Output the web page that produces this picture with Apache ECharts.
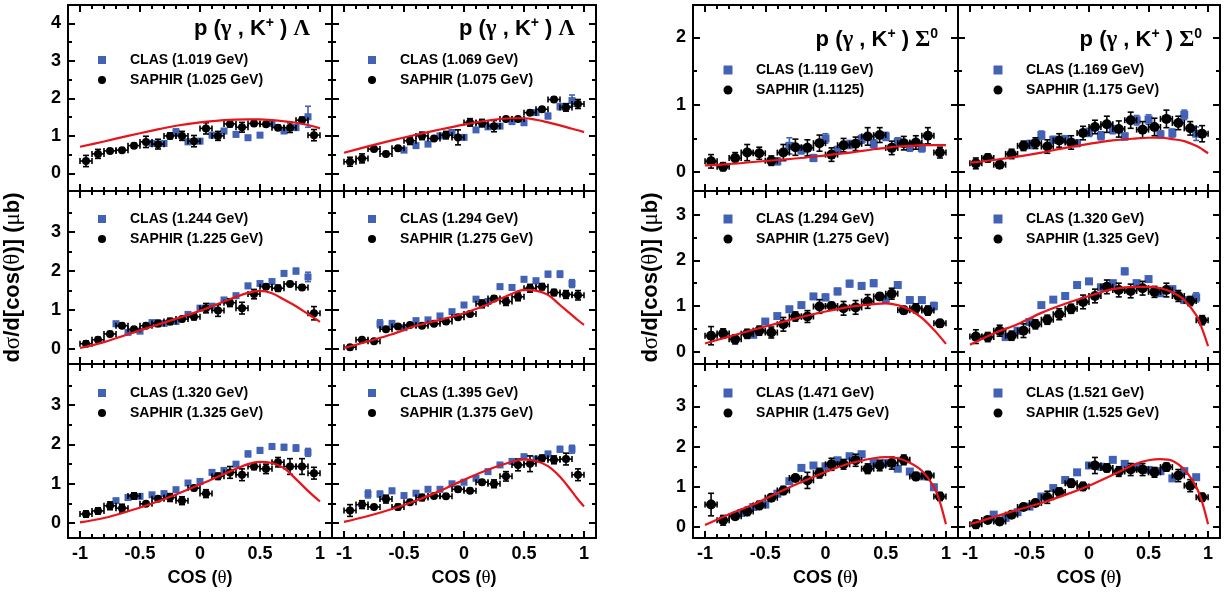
<!DOCTYPE html>
<html>
<head>
<meta charset="utf-8">
<script src="https://cdn.jsdelivr.net/npm/echarts@6/dist/echarts.min.js"></script>
<style>
  html, body { margin: 0; padding: 0; background: #fff; }
  #chart { width: 1229px; height: 593px; }
</style>
</head>
<body>
<div id="chart"></div>
<script>
// ---- kinematic bins -------------------------------------------------------
const saphirCos = [-0.95, -0.85, -0.75, -0.65, -0.55, -0.45, -0.35, -0.25, -0.15, -0.05,
                   0.05, 0.15, 0.25, 0.35, 0.45, 0.55, 0.65, 0.75, 0.85, 0.95];
const saphirBinHalf = 0.05;
const clasCos = [-0.8, -0.7, -0.6, -0.5, -0.4, -0.3, -0.2, -0.1, 0, 0.1, 0.2, 0.3, 0.4, 0.5, 0.6, 0.7, 0.8, 0.9];
const modelCos = [-1, -0.8, -0.6, -0.4, -0.2, 0, 0.2, 0.4, 0.5, 0.6, 0.7, 0.8, 0.9, 0.95, 1];

// ---- tick values ----------------------------------------------------------
const xMajorTicks = [-1, -0.5, 0, 0.5, 1];
const xMinorTicks = [-0.9, -0.8, -0.7, -0.6, -0.4, -0.3, -0.2, -0.1, 0.1, 0.2, 0.3, 0.4, 0.6, 0.7, 0.8, 0.9];
const yMajorLambdaTop = [0, 1, 2, 3, 4];
const yMajorLambda = [0, 1, 2, 3];
const yMinorLambda = [0.5, 1.5, 2.5, 3.5];
const yMajorSigmaTop = [0, 1, 2];
const yMinorSigmaTop = [0.5, 1.5];
const yMajorSigmaMid = [0, 1, 2, 3];
const yMinorSigmaMid = [0.5, 1.5, 2.5];
const yMajorSigmaBot = [0, 1, 2, 3];
const yMinorSigmaBot = [0.5, 1.5, 2.5, 3.5];

// ---- labels ---------------------------------------------------------------
const clasLabels = ['CLAS (1.019 GeV)', 'CLAS (1.069 GeV)', 'CLAS (1.244 GeV)', 'CLAS (1.294 GeV)',
                    'CLAS (1.320 GeV)', 'CLAS (1.395 GeV)', 'CLAS (1.119 GeV)', 'CLAS (1.169 GeV)',
                    'CLAS (1.294 GeV)', 'CLAS (1.320 GeV)', 'CLAS (1.471 GeV)', 'CLAS (1.521 GeV)'];
const saphirLabels = ['SAPHIR (1.025 GeV)', 'SAPHIR (1.075 GeV)', 'SAPHIR (1.225 GeV)', 'SAPHIR (1.275 GeV)',
                      'SAPHIR (1.325 GeV)', 'SAPHIR (1.375 GeV)', 'SAPHIR (1.1125)', 'SAPHIR (1.175 GeV)',
                      'SAPHIR (1.275 GeV)', 'SAPHIR (1.325 GeV)', 'SAPHIR (1.475 GeV)', 'SAPHIR (1.525 GeV)'];
const reactionLambda = '{b|p (}{g|γ}{b| , K}{s|+}{b| ) }{g|Λ}';
const reactionSigma = '{b|p (}{g|γ}{b| , K}{s|+}{b| ) }{g|Σ}{s|0}';
const xTitle = '{b|COS (}{g|θ}{b|)}';
const yTitle = '{b|d}{g|σ}{b|/d[cos(}{g|θ}{b|)] (}{g|μ}{b|b)}';

// ---- p(γ,K+)Λ : differential cross sections (μb) ---------------------------
const saphir1 = [0.33, 0.52, 0.60, 0.62, 0.74, 0.84, 0.78, 1.00, 1.00, 0.86, 1.20, 1.00, 1.32, 1.23, 1.33, 1.31, 1.22, 1.22, 1.42, 1.02];
const saphirErr1 = [0.15, 0.12, 0.05, 0.05, 0.06, 0.15, 0.13, 0.08, 0.12, 0.15, 0.15, 0.12, 0.08, 0.13, 0.06, 0.05, 0.06, 0.13, 0.08, 0.15];
const clas1 = [null, null, null, null, 0.80, 0.80, 1.11, 0.84, 0.86, 1.02, 1.13, 1.04, 0.95, 1.02, 1.33, 1.13, 1.22, 1.51];
const clasErr1 = [null, null, null, null, 0.06, 0.06, 0.07, 0.06, 0.06, 0.06, 0.06, 0.06, 0.06, 0.06, 0.07, 0.06, 0.07, 0.28];
const model1 = [0.71, 0.85, 1.00, 1.14, 1.27, 1.36, 1.42, 1.44, 1.44, 1.42, 1.39, 1.35, 1.29, 1.25, 1.20];

const saphir2 = [0.31, 0.40, 0.65, 0.52, 0.67, 0.87, 1.00, 0.93, 1.02, 0.96, 1.36, 1.34, 1.26, 1.45, 1.45, 1.62, 1.71, 1.97, 1.76, 1.85];
const saphirErr2 = [0.12, 0.12, 0.06, 0.06, 0.06, 0.10, 0.10, 0.05, 0.10, 0.20, 0.10, 0.10, 0.15, 0.06, 0.06, 0.06, 0.06, 0.06, 0.10, 0.12];
const clas2 = [null, null, null, 0.62, 0.74, 0.78, 1.00, 1.09, 0.96, 1.16, 1.24, 1.26, 1.38, 1.35, 1.62, 1.53, 1.78, 1.94];
const clasErr2 = [null, null, null, 0.05, 0.05, 0.05, 0.05, 0.05, 0.05, 0.05, 0.05, 0.05, 0.05, 0.05, 0.06, 0.07, 0.08, 0.15];
const model2 = [0.55, 0.72, 0.88, 1.03, 1.17, 1.30, 1.41, 1.47, 1.47, 1.43, 1.36, 1.28, 1.19, 1.15, 1.10];

const saphir3 = [0.14, 0.24, 0.39, 0.60, 0.51, 0.60, 0.66, 0.71, 0.77, 0.83, 1.05, 0.99, 1.19, 1.05, 1.41, 1.60, 1.56, 1.67, 1.58, 0.92];
const saphirErr3 = [0.07, 0.06, 0.06, 0.06, 0.06, 0.06, 0.08, 0.08, 0.06, 0.08, 0.12, 0.15, 0.10, 0.15, 0.12, 0.06, 0.08, 0.06, 0.06, 0.17];
const clas3 = [null, 0.65, 0.43, 0.46, 0.68, 0.66, 0.71, 0.89, 1.05, 1.10, 1.26, 1.37, 1.62, 1.68, 1.73, 1.94, 2.00, 1.85];
const clasErr3 = [null, 0.06, 0.05, 0.05, 0.05, 0.05, 0.05, 0.05, 0.05, 0.05, 0.05, 0.05, 0.06, 0.06, 0.06, 0.06, 0.07, 0.12];
const model3 = [0.03, 0.18, 0.38, 0.58, 0.78, 0.98, 1.22, 1.44, 1.49, 1.43, 1.27, 1.10, 0.90, 0.80, 0.70];

const saphir4 = [0.05, 0.24, 0.20, 0.51, 0.58, 0.62, 0.60, 0.65, 0.71, 0.82, 0.90, 1.16, 1.30, 1.22, 1.34, 1.56, 1.60, 1.45, 1.40, 1.38];
const saphirErr4 = [0.06, 0.05, 0.05, 0.05, 0.05, 0.05, 0.05, 0.05, 0.06, 0.06, 0.06, 0.10, 0.06, 0.10, 0.10, 0.10, 0.08, 0.08, 0.10, 0.12];
const clas4 = [null, 0.65, 0.65, 0.55, 0.73, 0.75, 0.85, 0.96, 1.13, 1.28, 1.22, 1.60, 1.58, 1.79, 1.75, 1.92, 1.92, 1.68];
const clasErr4 = [null, 0.10, 0.08, 0.05, 0.05, 0.05, 0.05, 0.05, 0.05, 0.05, 0.05, 0.06, 0.06, 0.06, 0.06, 0.07, 0.08, 0.10];
const model4 = [0.03, 0.20, 0.38, 0.60, 0.75, 0.92, 1.15, 1.42, 1.52, 1.50, 1.39, 1.13, 0.87, 0.74, 0.62];

const saphir5 = [0.23, 0.31, 0.44, 0.38, 0.69, 0.49, 0.62, 0.65, 0.57, 0.89, 0.75, 1.19, 1.29, 1.23, 1.44, 1.38, 1.55, 1.44, 1.44, 1.27];
const saphirErr5 = [0.08, 0.08, 0.10, 0.10, 0.08, 0.05, 0.05, 0.10, 0.10, 0.06, 0.10, 0.08, 0.15, 0.15, 0.08, 0.12, 0.12, 0.20, 0.20, 0.15];
const clas5 = [null, 0.57, 0.65, 0.68, 0.72, 0.75, 0.85, 1.02, 1.06, 1.29, 1.34, 1.50, 1.76, 1.85, 1.95, 1.93, 1.91, 1.80];
const clasErr5 = [null, 0.05, 0.05, 0.05, 0.05, 0.05, 0.05, 0.05, 0.05, 0.05, 0.05, 0.05, 0.07, 0.07, 0.07, 0.07, 0.08, 0.10];
const model5 = [0.02, 0.13, 0.30, 0.50, 0.73, 0.98, 1.25, 1.50, 1.56, 1.53, 1.40, 1.12, 0.82, 0.68, 0.55];

const saphir6 = [0.32, 0.47, 0.41, 0.61, 0.41, 0.53, 0.65, 0.69, 0.68, 0.86, 0.82, 1.04, 1.00, 1.19, 1.48, 1.51, 1.65, 1.61, 1.63, 1.23];
const saphirErr6 = [0.15, 0.10, 0.05, 0.10, 0.07, 0.05, 0.08, 0.05, 0.05, 0.06, 0.06, 0.06, 0.10, 0.12, 0.15, 0.20, 0.08, 0.10, 0.15, 0.15];
const clas6 = [0.74, 0.74, 0.82, 0.70, 0.76, 0.86, 0.86, 1.00, 1.04, 1.14, 1.31, 1.48, 1.57, 1.69, 1.63, 1.76, 1.88, 1.88];
const clasErr6 = [0.10, 0.07, 0.06, 0.05, 0.05, 0.05, 0.05, 0.05, 0.05, 0.05, 0.05, 0.05, 0.05, 0.05, 0.05, 0.06, 0.07, 0.10];
const model6 = [0.03, 0.18, 0.36, 0.57, 0.82, 1.10, 1.36, 1.56, 1.62, 1.58, 1.45, 1.18, 0.80, 0.60, 0.42];

// ---- p(γ,K+)Σ0 : differential cross sections (μb) --------------------------
const saphir7 = [0.16, 0.08, 0.21, 0.29, 0.28, 0.17, 0.29, 0.37, 0.36, 0.43, 0.26, 0.40, 0.42, 0.53, 0.55, 0.36, 0.43, 0.44, 0.54, 0.29];
const saphirErr7 = [0.10, 0.06, 0.08, 0.12, 0.09, 0.07, 0.12, 0.12, 0.12, 0.12, 0.10, 0.10, 0.10, 0.13, 0.11, 0.10, 0.10, 0.10, 0.12, 0.08];
const clas7 = [null, null, null, null, 0.16, 0.39, 0.33, 0.21, 0.50, 0.33, 0.41, 0.49, 0.42, 0.53, 0.45, 0.37, 0.36, null];
const clasErr7 = [null, null, null, null, 0.05, 0.12, 0.06, 0.05, 0.07, 0.05, 0.06, 0.06, 0.06, 0.06, 0.06, 0.06, 0.06, null];
const model7 = [0.10, 0.12, 0.15, 0.18, 0.21, 0.25, 0.29, 0.34, 0.36, 0.38, 0.39, 0.40, 0.40, 0.40, 0.40];

const saphir8 = [0.13, 0.21, 0.11, 0.27, 0.39, 0.43, 0.38, 0.47, 0.44, 0.58, 0.67, 0.71, 0.64, 0.77, 0.63, 0.67, 0.79, 0.73, 0.65, 0.57];
const saphirErr8 = [0.08, 0.06, 0.05, 0.07, 0.07, 0.08, 0.10, 0.10, 0.10, 0.10, 0.10, 0.12, 0.12, 0.12, 0.12, 0.13, 0.13, 0.10, 0.10, 0.12];
const clas8 = [null, null, null, 0.41, 0.55, 0.48, 0.49, 0.43, 0.59, 0.54, 0.63, 0.53, 0.77, 0.78, 0.56, 0.58, 0.85, 0.57];
const clasErr8 = [null, null, null, 0.06, 0.06, 0.05, 0.05, 0.05, 0.06, 0.06, 0.06, 0.05, 0.07, 0.07, 0.05, 0.06, 0.07, 0.10];
const model8 = [0.14, 0.18, 0.23, 0.29, 0.36, 0.42, 0.47, 0.50, 0.51, 0.51, 0.49, 0.46, 0.39, 0.34, 0.28];

const saphir9 = [0.35, 0.40, 0.27, 0.39, 0.46, 0.42, 0.60, 0.77, 0.77, 0.99, 1.00, 0.95, 0.97, 1.10, 1.21, 1.27, 0.91, 0.95, 0.90, 0.62];
const saphirErr9 = [0.20, 0.10, 0.10, 0.10, 0.10, 0.12, 0.15, 0.10, 0.13, 0.15, 0.08, 0.15, 0.15, 0.15, 0.08, 0.12, 0.08, 0.10, 0.10, 0.08];
const clas9 = [null, null, 0.37, 0.66, 0.78, 0.93, 1.02, 1.21, 1.19, 1.32, 1.49, 1.44, 1.50, 1.15, 1.46, 1.13, 1.13, 1.00];
const clasErr9 = [null, null, 0.05, 0.05, 0.05, 0.05, 0.06, 0.06, 0.07, 0.07, 0.07, 0.07, 0.07, 0.07, 0.07, 0.07, 0.06, 0.08];
const model9 = [0.18, 0.33, 0.48, 0.62, 0.76, 0.88, 0.98, 1.04, 1.06, 1.02, 0.92, 0.74, 0.48, 0.33, 0.17];

const saphir10 = [0.33, 0.32, 0.46, 0.35, 0.46, 0.60, 0.70, 0.82, 0.94, 1.09, 1.22, 1.42, 1.35, 1.33, 1.39, 1.31, 1.35, 1.22, 1.11, 0.69];
const saphirErr10 = [0.15, 0.10, 0.12, 0.10, 0.15, 0.10, 0.10, 0.12, 0.10, 0.15, 0.15, 0.15, 0.15, 0.15, 0.15, 0.12, 0.15, 0.12, 0.10, 0.10];
const clas10 = [null, 0.32, 0.46, 0.65, 1.02, 1.14, 1.22, 1.46, 1.54, 1.41, 1.50, 1.76, 1.50, 1.59, 1.28, 1.37, 1.13, 1.19];
const clasErr10 = [null, 0.06, 0.06, 0.05, 0.05, 0.05, 0.05, 0.06, 0.06, 0.06, 0.06, 0.07, 0.06, 0.06, 0.06, 0.06, 0.06, 0.10];
const model10 = [0.15, 0.40, 0.60, 0.85, 1.05, 1.22, 1.37, 1.42, 1.42, 1.39, 1.30, 1.13, 0.80, 0.50, 0.12];

const saphir11 = [0.56, 0.17, 0.27, 0.39, 0.54, 0.73, 0.91, 1.22, 1.16, 1.34, 1.56, 1.56, 1.66, 1.45, 1.53, 1.59, 1.67, 1.26, 1.28, 0.76];
const saphirErr11 = [0.28, 0.12, 0.08, 0.10, 0.10, 0.08, 0.10, 0.08, 0.20, 0.12, 0.15, 0.12, 0.15, 0.12, 0.13, 0.15, 0.12, 0.10, 0.10, 0.10];
const clas11 = [null, 0.35, 0.50, 0.56, 0.83, 1.14, 1.47, 1.53, 1.51, 1.66, 1.76, 1.81, 1.59, 1.59, 1.45, 1.38, 1.26, 0.99];
const clasErr11 = [null, 0.05, 0.05, 0.05, 0.05, 0.05, 0.05, 0.05, 0.05, 0.05, 0.05, 0.05, 0.05, 0.05, 0.05, 0.05, 0.05, 0.07];
const model11 = [0.05, 0.32, 0.56, 0.85, 1.12, 1.37, 1.58, 1.71, 1.74, 1.71, 1.60, 1.40, 1.00, 0.62, 0.07];

const saphir12 = [0.07, 0.18, 0.14, 0.31, 0.50, 0.60, 0.74, 0.87, 1.09, 1.01, 1.53, 1.47, 1.38, 1.43, 1.43, 1.36, 1.49, 1.28, 1.03, 0.74];
const saphirErr12 = [0.10, 0.07, 0.08, 0.07, 0.08, 0.08, 0.15, 0.10, 0.10, 0.10, 0.20, 0.10, 0.12, 0.15, 0.15, 0.12, 0.10, 0.15, 0.15, 0.10];
const clas12 = [0.31, 0.23, 0.37, 0.51, 0.76, 0.97, 1.17, 1.36, 1.53, 1.50, 1.67, 1.57, 1.49, 1.42, 1.39, 1.21, 1.39, 1.24];
const clasErr12 = [0.05, 0.05, 0.05, 0.05, 0.05, 0.05, 0.05, 0.05, 0.05, 0.05, 0.05, 0.05, 0.05, 0.05, 0.05, 0.05, 0.05, 0.06];
const model12 = [0.07, 0.25, 0.43, 0.60, 0.80, 1.03, 1.30, 1.58, 1.66, 1.69, 1.65, 1.43, 1.00, 0.62, 0.07];

// ---- panel layout ---------------------------------------------------------
const FONT = '"Liberation Sans", Arial, Helvetica, sans-serif';
const SERIF = '"Liberation Serif", "DejaVu Serif", serif';
const CLAS_COLOR = '#4262b6';
const MODEL_COLOR = '#e8141c';

const COLS = {
  L1: { left: 68, width: 264, iconX: 102 },
  L2: { left: 332, width: 264, iconX: 372 },
  R1: { left: 693, width: 265, iconX: 728 },
  R2: { left: 958, width: 262, iconX: 998 }
};
const ROWS = {
  top: { top: 5, height: 186 },
  mid: { top: 191, height: 173 },
  bot: { top: 364, height: 174 }
};
const BLOCK = {
  L: {
    top: { range: [-0.47, 4.49], major: yMajorLambdaTop, minor: yMinorLambda, legendY: 55 },
    mid: { range: [-0.38, 4.05], major: yMajorLambda, minor: yMinorLambda, legendY: 28 },
    bot: { range: [-0.38, 4.05], major: yMajorLambda, minor: yMinorLambda, legendY: 29 },
    clasSize: 7, saphirSize: 8, iconSize: 8, nameGap: 44, title: reactionLambda, titleY: 29
  },
  R: {
    top: { range: [-0.28, 2.48], major: yMajorSigmaTop, minor: yMinorSigmaTop, legendY: 65 },
    mid: { range: [-0.27, 3.52], major: yMajorSigmaMid, minor: yMinorSigmaMid, legendY: 28 },
    bot: { range: [-0.27, 4.05], major: yMajorSigmaBot, minor: yMinorSigmaBot, legendY: 29 },
    clasSize: 8, saphirSize: 10, iconSize: 9, nameGap: 31, title: reactionSigma, titleY: 40
  }
};
const PANELS = [
  { col: 'L1', row: 'top', saphir: saphir1, saphirErr: saphirErr1, clas: clas1, clasErr: clasErr1, model: model1, titleRight: 310 },
  { col: 'L2', row: 'top', saphir: saphir2, saphirErr: saphirErr2, clas: clas2, clasErr: clasErr2, model: model2, titleRight: 575 },
  { col: 'L1', row: 'mid', saphir: saphir3, saphirErr: saphirErr3, clas: clas3, clasErr: clasErr3, model: model3 },
  { col: 'L2', row: 'mid', saphir: saphir4, saphirErr: saphirErr4, clas: clas4, clasErr: clasErr4, model: model4 },
  { col: 'L1', row: 'bot', saphir: saphir5, saphirErr: saphirErr5, clas: clas5, clasErr: clasErr5, model: model5 },
  { col: 'L2', row: 'bot', saphir: saphir6, saphirErr: saphirErr6, clas: clas6, clasErr: clasErr6, model: model6 },
  { col: 'R1', row: 'top', saphir: saphir7, saphirErr: saphirErr7, clas: clas7, clasErr: clasErr7, model: model7, titleRight: 938 },
  { col: 'R2', row: 'top', saphir: saphir8, saphirErr: saphirErr8, clas: clas8, clasErr: clasErr8, model: model8, titleRight: 1202 },
  { col: 'R1', row: 'mid', saphir: saphir9, saphirErr: saphirErr9, clas: clas9, clasErr: clasErr9, model: model9 },
  { col: 'R2', row: 'mid', saphir: saphir10, saphirErr: saphirErr10, clas: clas10, clasErr: clasErr10, model: model10 },
  { col: 'R1', row: 'bot', saphir: saphir11, saphirErr: saphirErr11, clas: clas11, clasErr: clasErr11, model: model11 },
  { col: 'R2', row: 'bot', saphir: saphir12, saphirErr: saphirErr12, clas: clas12, clasErr: clasErr12, model: model12 }
];

const titleRich = {
  b: { fontFamily: FONT, fontWeight: 'bold', fontSize: 22, color: '#000', lineHeight: 26 },
  g: { fontFamily: SERIF, fontSize: 23, color: '#000', lineHeight: 26 },
  s: { fontFamily: FONT, fontWeight: 'bold', fontSize: 14, color: '#000', lineHeight: 14, verticalAlign: 'top' }
};
const axisTitleRich = {
  b: { fontFamily: FONT, fontWeight: 'bold', fontSize: 18, color: '#000' },
  g: { fontFamily: SERIF, fontSize: 19, color: '#000' }
};
const yTitleRich = {
  b: { fontFamily: FONT, fontWeight: 'bold', fontSize: 22, color: '#000' },
  g: { fontFamily: SERIF, fontSize: 23, color: '#000' }
};
const tickLabel = { fontFamily: FONT, fontWeight: 'bold', fontSize: 18, color: '#000' };
const legendText = { fontFamily: FONT, fontWeight: 'bold', fontSize: 14, color: '#000', lineHeight: 20 };

function fmt(v) { return String(Math.round(v * 10) / 10); }

// vertical (and optional horizontal) error bars with end caps
function errorBars(color, lineWidth, cap) {
  return function (params, api) {
    const x = api.value(0), y = api.value(1), e = api.value(2), h = api.value(3);
    const c = api.coord([x, y]);
    const hi = api.coord([x, y + e]);
    const lo = api.coord([x, y - e]);
    const st = { stroke: color, lineWidth: lineWidth };
    const kids = [
      { type: 'line', shape: { x1: c[0], y1: hi[1], x2: c[0], y2: lo[1] }, style: st },
      { type: 'line', shape: { x1: c[0] - cap, y1: hi[1], x2: c[0] + cap, y2: hi[1] }, style: st },
      { type: 'line', shape: { x1: c[0] - cap, y1: lo[1], x2: c[0] + cap, y2: lo[1] }, style: st }
    ];
    if (h > 0) {
      const l = api.coord([x - h, y]), r = api.coord([x + h, y]);
      kids.push({ type: 'line', shape: { x1: l[0], y1: c[1], x2: r[0], y2: c[1] }, style: st });
      kids.push({ type: 'line', shape: { x1: l[0], y1: c[1] - cap, x2: l[0], y2: c[1] + cap }, style: st });
      kids.push({ type: 'line', shape: { x1: r[0], y1: c[1] - cap, x2: r[0], y2: c[1] + cap }, style: st });
    }
    return { type: 'group', children: kids };
  };
}

const option = {
  animation: false,
  backgroundColor: '#ffffff',
  grid: [], xAxis: [], yAxis: [], series: [], legend: [], title: []
};

function xAxisDef(grid, position, ticks, len, withLine, withLabels, name) {
  const ax = {
    type: 'value', gridIndex: grid, position: position, min: -1.1, max: 1.1,
    axisLine: withLine ? { show: true, onZero: false, lineStyle: { color: '#000', width: 2 } } : { show: false, onZero: false },
    axisTick: { show: true, inside: true, length: len, customValues: ticks, lineStyle: { color: '#000', width: 2 } },
    axisLabel: withLabels
      ? Object.assign({ show: true, customValues: ticks, margin: 7, formatter: fmt }, tickLabel)
      : { show: false },
    splitLine: { show: false }
  };
  if (name) {
    ax.name = name;
    ax.nameLocation = 'middle';
    ax.nameGap = 31;
    ax.nameTextStyle = { rich: axisTitleRich };
  }
  return ax;
}

function yAxisDef(grid, position, range, ticks, len, withLine, withLabels, name, nameGap) {
  const ax = {
    type: 'value', gridIndex: grid, position: position, min: range[0], max: range[1],
    axisLine: withLine ? { show: true, onZero: false, lineStyle: { color: '#000', width: 2 } } : { show: false, onZero: false },
    axisTick: { show: true, inside: true, length: len, customValues: ticks, lineStyle: { color: '#000', width: 2 } },
    axisLabel: withLabels
      ? Object.assign({ show: true, customValues: ticks, margin: 7, formatter: fmt }, tickLabel)
      : { show: false },
    splitLine: { show: false }
  };
  if (name) {
    ax.name = name;
    ax.nameLocation = 'middle';
    ax.nameRotate = 90;
    ax.nameGap = nameGap;
    ax.nameTextStyle = { rich: yTitleRich };
  }
  return ax;
}

PANELS.forEach(function (p, i) {
  const col = COLS[p.col], row = ROWS[p.row];
  const block = BLOCK[p.col[0]];
  const rowCfg = block[p.row];
  const rect = { left: col.left, top: row.top, width: col.width, height: row.height };
  const gMajor = option.grid.length;
  option.grid.push(Object.assign({}, rect));
  option.grid.push(Object.assign({}, rect));
  const gMinor = gMajor + 1;
  const isBottom = p.row === 'bot';
  const isFirstCol = p.col.endsWith('1');
  const axisIndex = option.xAxis.length;

  // frame with major ticks
  option.xAxis.push(xAxisDef(gMajor, 'bottom', xMajorTicks, 7, true, isBottom, isBottom ? xTitle : null));
  option.xAxis.push(xAxisDef(gMajor, 'top', xMajorTicks, 7, true, false, null));
  // minor ticks
  option.xAxis.push(xAxisDef(gMinor, 'bottom', xMinorTicks, 4, false, false, null));
  option.xAxis.push(xAxisDef(gMinor, 'top', xMinorTicks, 4, false, false, null));

  const yName = (isFirstCol && p.row === 'mid') ? yTitle : null;
  option.yAxis.push(yAxisDef(gMajor, 'left', rowCfg.range, rowCfg.major, 7, true, isFirstCol, yName, block.nameGap));
  option.yAxis.push(yAxisDef(gMajor, 'right', rowCfg.range, rowCfg.major, 7, true, false, null));
  option.yAxis.push(yAxisDef(gMinor, 'left', rowCfg.range, rowCfg.minor, 4, false, false, null));
  option.yAxis.push(yAxisDef(gMinor, 'right', rowCfg.range, rowCfg.minor, 4, false, false, null));

  const clasPts = [], clasBars = [];
  clasCos.forEach(function (x, k) {
    if (p.clas[k] == null) return;
    clasPts.push([x, p.clas[k]]);
    clasBars.push([x, p.clas[k], p.clasErr[k], 0]);
  });
  const saphirPts = [], saphirBars = [];
  saphirCos.forEach(function (x, k) {
    if (p.saphir[k] == null) return;
    saphirPts.push([x, p.saphir[k]]);
    saphirBars.push([x, p.saphir[k], p.saphirErr[k], saphirBinHalf]);
  });

  const ax = { xAxisIndex: axisIndex, yAxisIndex: axisIndex };
  option.series.push(Object.assign({
    type: 'custom', renderItem: errorBars(CLAS_COLOR, 1.6, 3), data: clasBars,
    encode: { x: 0, y: 1 }, z: 2, silent: true
  }, ax));
  option.series.push(Object.assign({
    type: 'scatter', name: clasLabels[i], data: clasPts, symbol: 'rect',
    symbolSize: block.clasSize, itemStyle: { color: CLAS_COLOR, opacity: 1 }, z: 3, silent: true
  }, ax));
  option.series.push(Object.assign({
    type: 'custom', renderItem: errorBars('#000', 1.6, 3), data: saphirBars,
    encode: { x: 0, y: 1 }, z: 4, silent: true
  }, ax));
  option.series.push(Object.assign({
    type: 'scatter', name: saphirLabels[i], data: saphirPts, symbol: 'circle',
    symbolSize: block.saphirSize, itemStyle: { color: '#000', opacity: 1 }, z: 5, silent: true
  }, ax));
  option.series.push(Object.assign({
    type: 'line', data: modelCos.map(function (x, k) { return [x, p.model[k]]; }),
    smooth: 0.35, showSymbol: false, symbol: 'none',
    lineStyle: { color: MODEL_COLOR, width: 2.2 }, z: 6, silent: true
  }, ax));

  option.legend.push({
    orient: 'vertical',
    left: col.iconX - block.iconSize / 2,
    top: row.top + rowCfg.legendY - 10,
    padding: 0, itemGap: 0,
    itemWidth: block.iconSize, itemHeight: block.iconSize,
    selectedMode: false,
    data: [{ name: clasLabels[i], icon: 'rect' }, { name: saphirLabels[i], icon: 'circle' }],
    formatter: function (n) { return '{t|' + n + '}'; },
    textStyle: Object.assign({}, legendText, {
      rich: { t: Object.assign({}, legendText, { padding: [0, 0, 0, 23 - block.iconSize / 2] }) }
    })
  });

  if (p.titleRight) {
    option.title.push({
      text: block.title,
      right: 1229 - p.titleRight,
      top: block.titleY - 13,
      padding: 0,
      textStyle: { rich: titleRich }
    });
  }
});

const chart = echarts.init(document.getElementById('chart'), null, { renderer: 'canvas' });
chart.setOption(option);
</script>
</body>
</html>
